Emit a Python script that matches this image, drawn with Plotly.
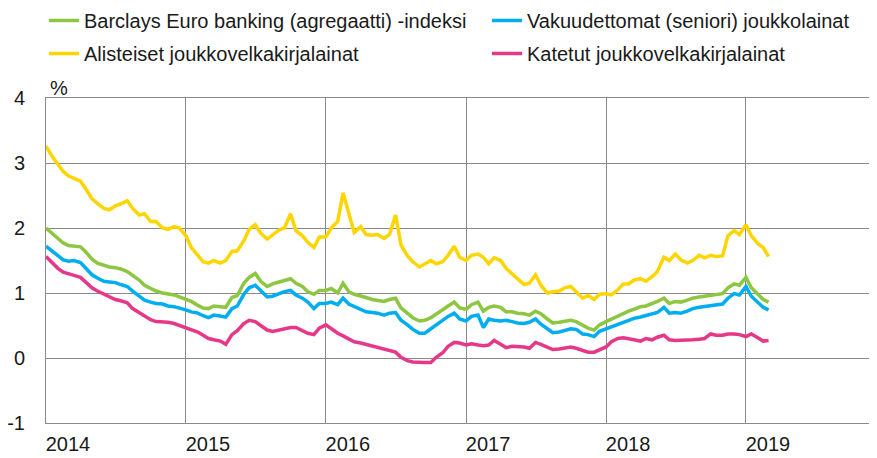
import pandas as pd
import plotly.graph_objects as go

# Semi-monthly observations, 2014-01-01 ... 2019-03-01 (1st and 15th of each month)
start_date = "2014-01-01"

barclays = [
    2.00, 1.93, 1.85, 1.77, 1.73, 1.72, 1.71, 1.63, 1.52, 1.46, 1.42, 1.40, 1.39, 1.37, 1.33, 1.27, 1.20, 1.12,
    1.07, 1.03, 1.00, 0.99, 0.97, 0.94, 0.90, 0.87, 0.81, 0.77, 0.76, 0.80, 0.79, 0.78, 0.93, 0.96, 1.15, 1.24,
    1.30, 1.18, 1.10, 1.14, 1.17, 1.20, 1.22, 1.15, 1.10, 1.02, 0.98, 1.04, 1.04, 1.07, 1.00, 1.15, 1.02, 0.98,
    0.96, 0.93, 0.90, 0.89, 0.87, 0.90, 0.92, 0.77, 0.69, 0.62, 0.57, 0.58, 0.62, 0.68, 0.74, 0.80, 0.86, 0.77,
    0.75, 0.82, 0.86, 0.72, 0.78, 0.80, 0.78, 0.71, 0.71, 0.69, 0.68, 0.66, 0.72, 0.68, 0.60, 0.54, 0.55, 0.57,
    0.58, 0.56, 0.50, 0.46, 0.43, 0.51,
    0.56, 0.60, 0.64, 0.69, 0.72, 0.75, 0.79, 0.80, 0.83, 0.87, 0.92, 0.84, 0.87, 0.86, 0.89, 0.92, 0.94, 0.95,
    0.97, 0.97, 0.99, 1.08, 1.14, 1.12, 1.24, 1.08, 0.99, 0.90, 0.86,
]

senior = [
    1.72, 1.65, 1.57, 1.51, 1.49, 1.50, 1.47, 1.38, 1.28, 1.23, 1.18, 1.17, 1.16, 1.13, 1.10, 1.03, 0.95, 0.89,
    0.86, 0.84, 0.83, 0.80, 0.79, 0.77, 0.74, 0.71, 0.69, 0.65, 0.62, 0.66, 0.64, 0.63, 0.76, 0.80, 0.98, 1.08,
    1.12, 1.04, 0.94, 0.95, 0.99, 1.02, 1.04, 0.97, 0.92, 0.86, 0.76, 0.84, 0.84, 0.86, 0.82, 0.92, 0.83, 0.79,
    0.74, 0.71, 0.70, 0.69, 0.66, 0.69, 0.70, 0.58, 0.51, 0.44, 0.38, 0.38, 0.45, 0.51, 0.57, 0.64, 0.69, 0.60,
    0.57, 0.64, 0.66, 0.47, 0.60, 0.58, 0.57, 0.58, 0.56, 0.54, 0.53, 0.55, 0.60, 0.52, 0.45, 0.39, 0.40, 0.43,
    0.45, 0.44, 0.37, 0.36, 0.33, 0.41,
    0.45, 0.48, 0.52, 0.55, 0.58, 0.61, 0.63, 0.65, 0.68, 0.70, 0.78, 0.69, 0.70, 0.69, 0.72, 0.76, 0.78, 0.79,
    0.81, 0.81, 0.83, 0.92, 0.99, 0.97, 1.10, 0.95, 0.85, 0.78, 0.74,
]

subordinated = [
    3.26, 3.12, 2.98, 2.87, 2.80, 2.76, 2.72, 2.60, 2.45, 2.38, 2.30, 2.28, 2.34, 2.37, 2.42, 2.30, 2.20, 2.22,
    2.10, 2.10, 2.00, 1.98, 2.02, 2.00, 1.88, 1.70, 1.58, 1.48, 1.46, 1.50, 1.46, 1.50, 1.64, 1.65, 1.80, 1.98,
    2.05, 1.92, 1.83, 1.90, 1.97, 2.00, 2.22, 1.96, 1.88, 1.78, 1.70, 1.86, 1.86, 2.00, 2.10, 2.54, 2.20, 1.93,
    2.02, 1.90, 1.89, 1.90, 1.84, 1.90, 2.20, 1.74, 1.57, 1.48, 1.40, 1.45, 1.50, 1.45, 1.48, 1.58, 1.72, 1.55,
    1.50, 1.58, 1.60, 1.55, 1.45, 1.54, 1.50, 1.38, 1.30, 1.22, 1.13, 1.15, 1.28, 1.12, 1.00, 1.02, 1.03, 1.08,
    1.10, 1.02, 0.92, 0.96, 0.90, 0.98,
    0.99, 0.97, 1.05, 1.14, 1.14, 1.20, 1.22, 1.18, 1.25, 1.33, 1.55, 1.50, 1.60, 1.51, 1.46, 1.50, 1.58, 1.54,
    1.58, 1.56, 1.57, 1.88, 1.96, 1.90, 2.05, 1.88, 1.76, 1.70, 1.56,
]

covered = [
    1.56, 1.48, 1.38, 1.32, 1.29, 1.27, 1.24, 1.17, 1.08, 1.03, 0.98, 0.94, 0.90, 0.88, 0.85, 0.76, 0.70, 0.65,
    0.59, 0.56, 0.56, 0.55, 0.53, 0.50, 0.47, 0.44, 0.40, 0.35, 0.30, 0.28, 0.26, 0.21, 0.36, 0.42, 0.53, 0.58,
    0.56, 0.50, 0.43, 0.41, 0.43, 0.45, 0.47, 0.47, 0.42, 0.38, 0.36, 0.46, 0.51, 0.45, 0.38, 0.34, 0.30, 0.25,
    0.23, 0.21, 0.18, 0.16, 0.14, 0.12, 0.09, 0.01, -0.04, -0.06, -0.07, -0.07, -0.07, 0.01, 0.08, 0.18, 0.24, 0.23,
    0.20, 0.22, 0.20, 0.19, 0.20, 0.27, 0.21, 0.16, 0.18, 0.18, 0.17, 0.15, 0.24, 0.21, 0.17, 0.13, 0.14, 0.16,
    0.17, 0.15, 0.12, 0.09, 0.09, 0.13,
    0.17, 0.25, 0.30, 0.31, 0.30, 0.28, 0.26, 0.30, 0.28, 0.32, 0.35, 0.28, 0.27, 0.27, 0.27, 0.28, 0.29, 0.30,
    0.37, 0.35, 0.35, 0.37, 0.37, 0.36, 0.33, 0.37, 0.31, 0.26, 0.27,
]

series_names = [
    "Barclays Euro banking (agregaatti) -indeksi",
    "Vakuudettomat (seniori) joukkolainat",
    "Alisteiset joukkovelkakirjalainat",
    "Katetut joukkovelkakirjalainat",
]
series_colors = ["#8DC641", "#00AEEF", "#FFD500", "#E63888"]

year_ticks = ["2014-01-01", "2015-01-01", "2016-01-01", "2017-01-01", "2018-01-01", "2019-01-01"]
year_labels = ["2014", "2015", "2016", "2017", "2018", "2019"]
y_ticks = [-1, 0, 1, 2, 3, 4]
y_tick_labels = ["-1", "0", "1", "2", "3", "4"]

dates = pd.date_range(start_date, periods=len(barclays), freq="SMS")

FONT = "Liberation Sans, Arial, sans-serif"
TXT = "#1a1a1a"
GRID = "#8a8a8a"

# figure is drawn inside the page's 8px body margin
W, H = 861, 450

fig = go.Figure()
series = [barclays, senior, subordinated, covered]
legend_ids = ["legend2", "legend3", "legend4", "legend5"]
for vals, name, col, lg in zip(series, series_names, series_colors, legend_ids):
    fig.add_trace(go.Scatter(x=dates, y=vals, mode="lines", name=name,
                             line=dict(color=col, width=3.5), legend=lg))


def legend_box(x, y):
    return dict(orientation="v", xref="container", yref="paper",
                xanchor="left", yanchor="top", x=x, y=y,
                font=dict(family=FONT, size=20, color=TXT),
                bgcolor="rgba(0,0,0,0)", itemwidth=30)


col1_x, col2_x = 0.0418, 0.5563
row1_y, row2_y = 1.2985, 1.197

fig.update_layout(
    width=W, height=H,
    margin=dict(l=38, r=0, t=90, b=35, autoexpand=False),
    paper_bgcolor="white", plot_bgcolor="white",
    font=dict(family=FONT, size=20, color=TXT),
    legend2=legend_box(col1_x, row1_y),
    legend3=legend_box(col2_x, row1_y),
    legend4=legend_box(col1_x, row2_y),
    legend5=legend_box(col2_x, row2_y),
    xaxis=dict(type="date", range=["2014-01-01", "2019-11-18"],
               tickvals=year_ticks, ticktext=year_labels, ticks="", tickangle=0,
               ticklabelshift=22, ticklabelstandoff=3,
               showgrid=True, gridcolor=GRID, gridwidth=1,
               showline=True, linecolor=GRID, linewidth=1, mirror=True,
               tickfont=dict(size=20, color=TXT), zeroline=False, automargin=False),
    yaxis=dict(range=[-1, 4], tickvals=y_ticks, ticktext=y_tick_labels, ticks="",
               ticklabelstandoff=16,
               showgrid=True, gridcolor=GRID, gridwidth=1,
               showline=True, linecolor=GRID, linewidth=1,
               tickfont=dict(size=20, color=TXT), zeroline=False, automargin=False),
    annotations=[dict(text="%", xref="paper", yref="paper", x=0.003, y=1.0,
                      xanchor="left", yanchor="bottom", yshift=-3, showarrow=False,
                      font=dict(family=FONT, size=20, color=TXT))],
)

fig.write_html("out.html")
